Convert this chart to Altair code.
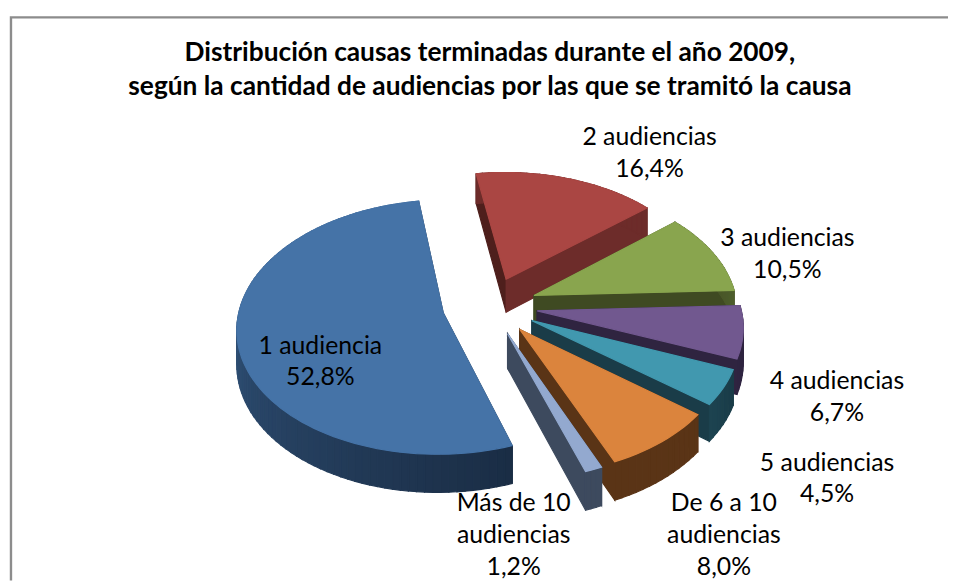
import math
import altair as alt
import pandas as pd

names = ["1 audiencia", "2 audiencias", "3 audiencias", "4 audiencias",
         "5 audiencias", "De 6 a 10\naudiencias", "Más de 10\naudiencias"]
shares = [52.8, 16.4, 10.5, 6.7, 4.5, 8.0, 1.2]
share_text = ["52,8%", "16,4%", "10,5%", "6,7%", "4,5%", "8,0%", "1,2%"]

top_colors = ["#4573A7", "#AA4643", "#89A54E", "#71588F", "#4198AF", "#DB843D", "#93A9CF"]
wall_light = ["#3F6A9A", "#6D2C2A", "#4F5F2D", "#2F2440", "#1D4451", "#5A3416", "#3D4A5E"]
wall_dark = ["#1A2D45", "#6D2C2A", "#3F4A22", "#2F2440", "#1A3C48", "#5A3416", "#3D4A5E"]
start_face = ["#1A2D45", "#4E1F1C", "#3F4A22", "#2F2440", "#1A3C48", "#5A3416", "#3D4A5E"]
end_face = ["#1A2D45", "#6D2C2A", "#3F4A22", "#2F2440", "#1A3C48", "#5A3416", "#3D4A5E"]

label_x = [323, 655, 794, 844, 834, 730, 518]
label_y = [346, 136, 238, 382, 464, 505, 505]

first_angle = 161.0
explosion = 0.235
CX, CY, R, TILT, PERSP, DEPTH = 494.0, 306.0, 205.0, 0.61, 0.11, 34.0


def project(u, v, drop=False):
    p = 1.0 / (1.0 - PERSP * v)
    return (CX + R * u * p, CY + R * TILT * v * p + (DEPTH * p if drop else 0.0))


def mix(a, b, t):
    ca = [int(a[i:i + 2], 16) for i in (1, 3, 5)]
    cb = [int(b[i:i + 2], 16) for i in (1, 3, 5)]
    return "#%02X%02X%02X" % tuple(round(x + (y - x) * t) for x, y in zip(ca, cb))


rows = []


def add(piece, pts, fill):
    for i, (x, y) in enumerate(pts):
        rows.append({"piece": piece, "i": i, "x": x, "y": y, "fill": fill})


total = sum(shares)
spans, a = [], first_angle
for s in shares:
    spans.append((a, a + s / total * 360.0))
    a += s / total * 360.0

for k in [1, 2, 3, 4, 0, 5, 6]:
    a0, a1 = spans[k]
    mid = math.radians((a0 + a1) / 2)
    ou, ov = explosion * math.sin(mid), -explosion * math.cos(mid)
    n = max(3, int((a1 - a0) / 2))
    angs = [math.radians(a0 + (a1 - a0) * j / n) for j in range(n + 1)]
    rim = [(ou + math.sin(t), ov - math.cos(t)) for t in angs]
    # radial faces
    for tag, pt, col in (("s", rim[0], start_face[k]), ("e", rim[-1], end_face[k])):
        add(f"{k}{tag}", [project(ou, ov), project(*pt), project(*pt, True), project(ou, ov, True)], col)
    # outer wall strips
    for j in range(n):
        frac = (angs[j] - angs[0]) / (angs[-1] - angs[0])
        col = mix(wall_dark[k], wall_light[k], frac)
        add(f"{k}w{j}", [project(*rim[j]), project(*rim[j + 1]),
                         project(*rim[j + 1], True), project(*rim[j], True)], col)
    # top surface
    add(f"{k}t", [project(ou, ov)] + [project(*q) for q in rim], top_colors[k])

slices = pd.DataFrame(rows)
x_scale = alt.Scale(domain=[8, 956], nice=False, zero=False)
y_scale = alt.Scale(domain=[583, 8], nice=False, zero=False)

pie = alt.Chart(slices).mark_line(interpolate="linear-closed", strokeWidth=1.2).encode(
    x=alt.X("x:Q", scale=x_scale, axis=None),
    y=alt.Y("y:Q", scale=y_scale, axis=None),
    detail="piece:N",
    order="i:Q",
    fill=alt.Fill("fill:N", scale=None, legend=None),
    stroke=alt.Stroke("fill:N", scale=None, legend=None),
)

frame = alt.Chart(pd.DataFrame({"x": [11, 11, 956], "y": [583, 15, 15], "i": [0, 1, 2]})).mark_line(
    color="#8C8C8C", strokeWidth=2.4
).encode(
    x=alt.X("x:Q", scale=x_scale, axis=None),
    y=alt.Y("y:Q", scale=y_scale, axis=None),
    order="i:Q",
)

labels = pd.DataFrame({
    "label": [f"{n}\n{s}" for n, s in zip(names, share_text)],
    "x": label_x, "y": label_y,
})
text = alt.Chart(labels).mark_text(
    font="Lato", fontSize=25, lineBreak="\n", lineHeight=32, color="#000000", align="center", baseline="middle"
).encode(
    x=alt.X("x:Q", scale=x_scale, axis=None),
    y=alt.Y("y:Q", scale=y_scale, axis=None),
    text="label:N",
)

chart = alt.layer(frame, pie, text).properties(
    width=948, height=575,
    padding=0,
    autosize=alt.AutoSizeParams(type="none"),
    title=alt.TitleParams(
        text=["Distribución causas terminadas durante el año 2009,",
              "según la cantidad de audiencias por las que se tramitó la causa"],
        font="Lato", fontSize=26.5, fontWeight="bold", color="#000000",
        anchor="middle", frame="group", lineHeight=35, offset=-91, dx=12, baseline="top",
    ),
).configure_view(stroke=None)

chart.save("out.html", embed_options={"renderer": "svg", "actions": False})
